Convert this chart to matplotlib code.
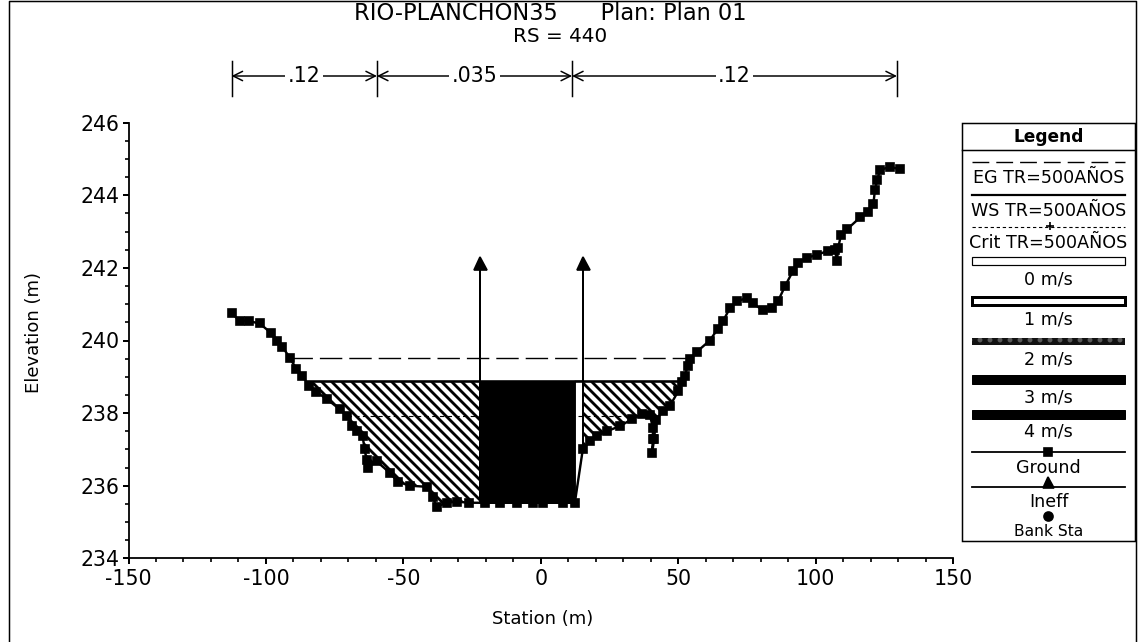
import numpy as np
import matplotlib
matplotlib.use("Agg")
import matplotlib.pyplot as plt
from matplotlib.patches import Rectangle, Polygon
from matplotlib.ticker import MultipleLocator

# ---------------- data ----------------
station = [-112.5, -109.6, -106.0, -102.3, -98.0, -95.8, -94.0, -91.4, -88.9, -86.7,
           -84.5, -81.6, -77.9, -73.2, -70.6, -68.8, -67.0, -64.8, -64.1, -63.4,
           -63.0, -59.7, -55.0, -52.0, -47.7, -41.5, -39.3, -37.9, -34.2, -30.6,
           -26.0, -20.3, -14.8, -8.7, -2.8, 0.8, 8.1, 12.4,
           15.3, 17.8, 20.4, 24.0, 28.8, 33.1, 36.8, 39.7, 40.8, 40.8,
           40.5, 41.3, 41.8, 44.4, 47.0, 50.0, 51.5, 52.4, 53.5, 54.3,
           56.8, 61.5, 64.5, 66.3, 68.8, 71.4, 75.0, 77.2, 80.8, 84.1,
           86.3, 88.9, 91.8, 93.6, 96.9, 100.5, 104.5, 107.0, 107.8, 108.2,
           109.3, 111.4, 116.2, 119.1, 121.0, 121.6, 122.4, 123.5, 127.0, 130.7]
elevation = [240.75, 240.55, 240.53, 240.47, 240.20, 240.00, 239.83, 239.53, 239.22, 239.03,
             238.75, 238.58, 238.39, 238.11, 237.92, 237.64, 237.50, 237.36, 237.00, 236.72,
             236.50, 236.67, 236.36, 236.11, 236.00, 235.97, 235.69, 235.42, 235.53, 235.56,
             235.53, 235.53, 235.53, 235.53, 235.53, 235.53, 235.53, 235.53,
             237.00, 237.22, 237.36, 237.50, 237.64, 237.83, 237.97, 237.95, 237.60, 237.30,
             236.90, 237.30, 237.80, 238.05, 238.20, 238.60, 238.86, 239.03, 239.30, 239.50,
             239.69, 240.00, 240.33, 240.53, 240.89, 241.08, 241.17, 241.03, 240.83, 240.89,
             241.08, 241.50, 241.92, 242.14, 242.28, 242.36, 242.47, 242.50, 242.19, 242.55,
             242.92, 243.06, 243.39, 243.53, 243.75, 244.14, 244.42, 244.70, 244.78, 244.72]

ws_elev = 238.88      # WS TR=500AÑOS
eg_elev = 239.53      # EG TR=500AÑOS
crit_elev = 237.92    # Crit TR=500AÑOS
ineff_sta = [-22.2, 15.3]
ineff_elev = 242.25
channel_sta = [-22.2, 12.4]           # fast-flowing (dark) portion of the flow area
n_breaks = [-112.5, -59.6, 11.4, 129.6]
n_values = [".12", ".035", ".12"]

title_text = "RIO-PLANCHON35      Plan: Plan 01"
rs_text = "RS = 440"
legend_lines = ["EG TR=500AÑOS", "WS TR=500AÑOS", "Crit TR=500AÑOS"]
velocity_labels = ["0 m/s", "1 m/s", "2 m/s", "3 m/s", "4 m/s"]
marker_labels = ["Ground", "Ineff", "Bank Sta"]

# ---------------- figure ----------------
W, H, DPI = 1139, 642, 120
PT = 72.0 / DPI          # points per pixel
plt.rcParams["font.family"] = ["DejaVu Sans"]
plt.rcParams["axes.unicode_minus"] = False
plt.rcParams["hatch.linewidth"] = 1.7

fig = plt.figure(figsize=(W / DPI, H / DPI), dpi=DPI)
fig.patch.set_facecolor("white")

ax_l, ax_r, ax_b, ax_t = 128.5, 953.0, 558.3, 122.7
ax = fig.add_axes([ax_l / W, 1 - ax_b / H, (ax_r - ax_l) / W, (ax_b - ax_t) / H])
ax.set_xlim(-150, 150)
ax.set_ylim(234, 246)
for s in ("top", "right"):
    ax.spines[s].set_visible(False)
for s in ("left", "bottom"):
    ax.spines[s].set_linewidth(1.8 * PT)
ax.xaxis.set_major_locator(MultipleLocator(50))
ax.xaxis.set_minor_locator(MultipleLocator(10))
ax.yaxis.set_major_locator(MultipleLocator(2))
ax.yaxis.set_minor_locator(MultipleLocator(0.5))
ax.tick_params(which="major", direction="out", length=6 * PT, width=1.2, labelsize=20.5 * PT, pad=2)
ax.tick_params(which="minor", direction="out", length=4 * PT, width=1.0)
ax.tick_params(axis="x", which="major", pad=3)
ax.set_xlabel("Station (m)", fontsize=18 * PT)
ax.set_ylabel("Elevation (m)", fontsize=18 * PT)
ax.xaxis.label.set_va("center")
ax.yaxis.label.set_va("center")
ax.xaxis.set_label_coords((543 - ax_l) / (ax_r - ax_l), (ax_b - 619) / (ax_b - ax_t))
ax.yaxis.set_label_coords((34 - ax_l) / (ax_r - ax_l), (ax_b - 333) / (ax_b - ax_t))

x = np.array(station)
y = np.array(elevation)


def crossing(level, first=True):
    idx = range(len(x) - 1) if first else range(len(x) - 2, -1, -1)
    for i in idx:
        if (y[i] - level) * (y[i + 1] - level) <= 0 and y[i] != y[i + 1]:
            t = (level - y[i]) / (y[i + 1] - y[i])
            return i, x[i] + t * (x[i + 1] - x[i])
    return None, None


def ground_at(s):
    left = x <= 12.4
    return float(np.interp(s, x[left], y[left]))


il, xl = crossing(ws_elev, True)
ir, xr = crossing(ws_elev, False)
HATCH = "\\\\\\\\"

# left overbank (hatched)
pts = [(xl, ws_elev)]
pts += [(a, b) for a, b in zip(x, y) if xl < a < ineff_sta[0]]
pts += [(ineff_sta[0], ground_at(ineff_sta[0])), (ineff_sta[0], ws_elev)]
ax.add_patch(Polygon(pts, closed=True, facecolor="white", edgecolor="black",
                     hatch=HATCH, linewidth=0, zorder=2))

# main channel (dark)
pts = [(channel_sta[0], ws_elev), (channel_sta[0], ground_at(channel_sta[0]))]
pts += [(a, b) for a, b in zip(x, y) if channel_sta[0] < a <= channel_sta[1]]
pts += [(channel_sta[1], ws_elev)]
ax.add_patch(Polygon(pts, closed=True, facecolor="black", edgecolor="black",
                     linewidth=0.5, zorder=3))

# slow strip between channel and right ineffective limit
j0 = station.index(channel_sta[1])
j1 = station.index(ineff_sta[1])
pts = [(channel_sta[1], ws_elev)] + list(zip(x[j0:j1 + 1], y[j0:j1 + 1])) + [(ineff_sta[1], ws_elev)]
ax.add_patch(Polygon(pts, closed=True, facecolor="white", edgecolor="black",
                     linewidth=0.6, zorder=2))

# right overbank (hatched)
pts = [(ineff_sta[1], ws_elev)] + list(zip(x[j1:ir + 1], y[j1:ir + 1])) + [(xr, ws_elev)]
ax.add_patch(Polygon(pts, closed=True, facecolor="white", edgecolor="black",
                     hatch=HATCH, linewidth=0, zorder=2))

# water surface, energy grade, critical depth
ax.plot([xl, xr], [ws_elev, ws_elev], color="black", lw=2.6 * PT, zorder=4)
_, eg_l = crossing(eg_elev, True)
_, eg_r = crossing(eg_elev, False)
ax.plot([eg_l, eg_r], [eg_elev, eg_elev], color="black", lw=1.4 * PT,
        dashes=(16, 5), zorder=1)
_, cr_l = crossing(crit_elev, True)
cr_r = 35.0
ax.plot([cr_l, cr_r], [crit_elev, crit_elev], color="black", lw=1.1 * PT,
        dashes=(4, 3), zorder=2.5)

# ineffective flow limits
for s in ineff_sta:
    g = ground_at(s) if s < 12.5 else elevation[station.index(s)]
    ax.plot([s, s], [g, ineff_elev], color="black", lw=2.0 * PT, zorder=4)
    ax.plot([s], [ineff_elev - 0.12], marker="^", color="black", markersize=13 * PT,
            zorder=5, clip_on=False)

# ground
ax.plot(x, y, color="black", lw=2.4 * PT, marker="s", markersize=8.8 * PT,
        zorder=6)

# ---------------- overlay (pixel coordinates) ----------------
ov = fig.add_axes([0, 0, 1, 1], facecolor="none")
ov.set_xlim(0, W)
ov.set_ylim(H, 0)
ov.axis("off")


def sx(s):
    return ax_l + (s + 150) / 300.0 * (ax_r - ax_l)


LW = 1.5 * PT

# figure border
ov.plot([9, 9, 1136, 1136], [H, 1, 1, H], color="black", lw=LW)

# titles
ov.text(550, 14, title_text, ha="center", va="center", fontsize=22.5 * PT)
ov.text(560, 37, rs_text, ha="center", va="center", fontsize=20 * PT)

# Manning's n bracket
yb = 76
for s in n_breaks:
    ov.plot([sx(s), sx(s)], [61, 96], color="black", lw=LW)
for a, b, lab in zip(n_breaks[:-1], n_breaks[1:], n_values):
    ov.annotate("", xy=(sx(a), yb), xytext=(sx(b), yb),
                arrowprops=dict(arrowstyle="<->", lw=LW, color="black",
                                shrinkA=0, shrinkB=0, mutation_scale=14))
    ov.text((sx(a) + sx(b)) / 2, yb, lab, ha="center", va="center", fontsize=20.5 * PT,
            bbox=dict(facecolor="white", edgecolor="none", pad=1.5))

# legend box
lx0, lx1, ly0, ly1 = 962, 1135, 123, 541
cx = (lx0 + lx1) / 2
ov.add_patch(Rectangle((lx0, ly0), lx1 - lx0, ly1 - ly0, facecolor="white",
                       edgecolor="black", lw=LW))
ov.text(cx, 137, "Legend", ha="center", va="center", fontsize=17 * PT, fontweight="bold")
ov.plot([lx0, lx1], [150, 150], color="black", lw=LW)
sx0, sx1 = 972, 1125
tfs = 17.5 * PT

ov.plot([sx0, sx1], [162, 162], color="black", lw=1.4 * PT, dashes=(12, 5))
ov.text(cx, 178, legend_lines[0], ha="center", va="center", fontsize=tfs)
ov.plot([sx0, sx1], [195, 195], color="black", lw=2.2 * PT)
ov.text(cx, 211, legend_lines[1], ha="center", va="center", fontsize=tfs)
ov.plot([sx0, sx1], [227, 227], color="black", lw=1.1 * PT, dashes=(3, 2.5))
ov.plot([1050], [226], marker="+", color="black", markersize=9 * PT, mew=1)
ov.text(cx, 243, legend_lines[2], ha="center", va="center", fontsize=tfs)

bar_y = [261, 301, 341, 379, 414]
bar_h = [8, 8, 7, 9, 9]
bar_face = ["white", "white", "#121212", "black", "black"]
bar_edge = ["black", "black", "#5a5a5a", "black", "black"]
bar_lw = [1.2, 3.0, 0.0, 1.0, 1.0]
bar_hatch = [None, None, "..", None, None]
for by, bh, fc, ec, blw, bht, lab in zip(bar_y, bar_h, bar_face, bar_edge, bar_lw,
                                         bar_hatch, velocity_labels):
    ov.add_patch(Rectangle((sx0, by - bh / 2), sx1 - sx0, bh, facecolor=fc,
                           edgecolor=ec, lw=blw * PT, hatch=bht))
    ov.text(cx, by + 18, lab, ha="center", va="center", fontsize=tfs)

ov.plot([sx0, sx1], [452, 452], color="black", lw=1.8 * PT)
ov.plot([1048], [452], marker="s", color="black", markersize=9 * PT)
ov.text(cx, 468, marker_labels[0], ha="center", va="center", fontsize=tfs)
ov.plot([sx0, sx1], [487, 487], color="black", lw=1.8 * PT)
ov.plot([1048], [482], marker="^", color="black", markersize=11 * PT)
ov.text(cx, 502, marker_labels[1], ha="center", va="center", fontsize=tfs)
ov.plot([1048], [516], marker="o", color="black", markersize=9 * PT)
ov.text(cx, 531, marker_labels[2], ha="center", va="center", fontsize=15.5 * PT)

fig.savefig("out.png", dpi=DPI, facecolor="white")
